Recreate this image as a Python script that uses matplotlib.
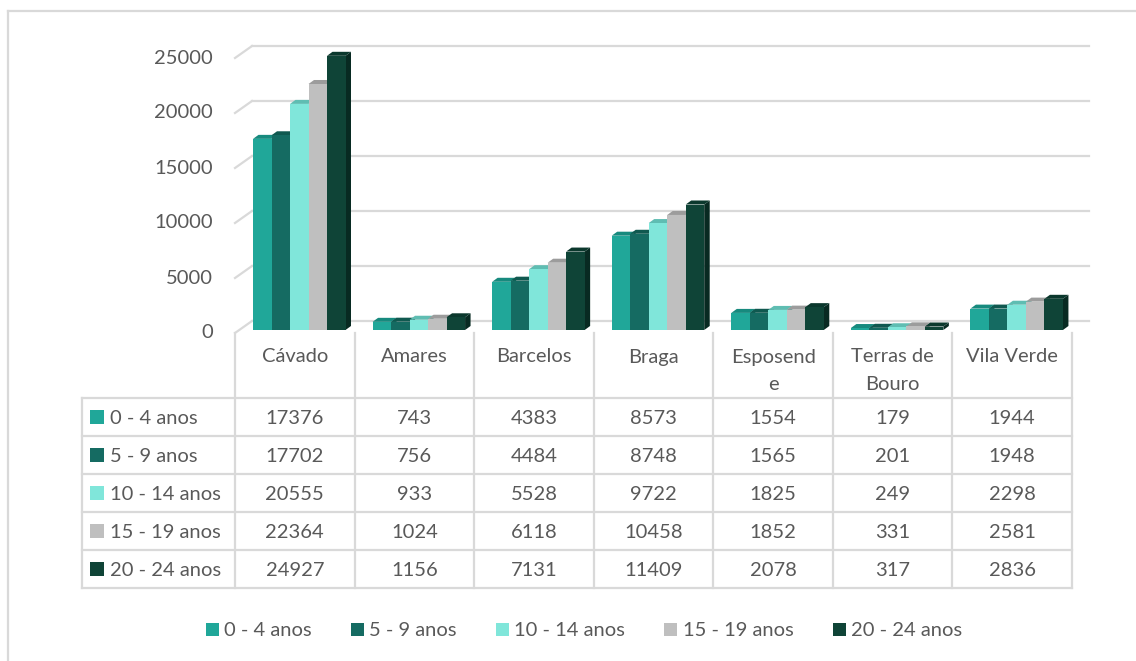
import matplotlib.pyplot as plt
from matplotlib.patches import Polygon, Rectangle, Patch
from matplotlib.lines import Line2D

categories = ["Cávado", "Amares", "Barcelos", "Braga", "Esposend\ne", "Terras de\nBouro", "Vila Verde"]
series = ["0 - 4 anos", "5 - 9 anos", "10 - 14 anos", "15 - 19 anos", "20 - 24 anos"]
v_0_4 = [17376, 743, 4383, 8573, 1554, 179, 1944]
v_5_9 = [17702, 756, 4484, 8748, 1565, 201, 1948]
v_10_14 = [20555, 933, 5528, 9722, 1825, 249, 2298]
v_15_19 = [22364, 1024, 6118, 10458, 1852, 331, 2581]
v_20_24 = [24927, 1156, 7131, 11409, 2078, 317, 2836]
values = [v_0_4, v_5_9, v_10_14, v_15_19, v_20_24]
yticks = [0, 5000, 10000, 15000, 20000, 25000]

front = ["#20A799", "#156B62", "#80E6DA", "#BFBFBF", "#0F4437"]
top = ["#178A7E", "#105950", "#5FBDB2", "#9C9C9C", "#0B382D"]
side = ["#12766B", "#0C4A43", "#4FA89E", "#8A8A8A", "#082A22"]
grid_c = "#D9D9D9"
text_c = "#595959"

plt.rcParams["font.family"] = ["Lato", "DejaVu Sans"]
FS = 14.5

W, H = 1136, 661
fig = plt.figure(figsize=(W / 100, H / 100), dpi=100)


def fx(px):
    return px / W


def fy(py):
    return 1 - py / H


# chart area: front plane, value 0 at y=333px, 25000 at y=58px
ax = fig.add_axes([fx(235), fy(333), fx(1072) - fx(235), (333 - 58) / H])
ax.set_xlim(-0.5, 6.5)
ax.set_ylim(0, 25000)
ax.axis("off")
ppx = (1072 - 235) / 7.0      # pixels per category
ppy = (333 - 58) / 25000.0    # pixels per unit


def off(dx, dy):
    # pixel offset (image coords, y down) -> data offset
    return dx / ppx, -dy / ppy


# back wall gridlines
bx, by = off(17, -12)
for t in yticks:
    ax.plot([-0.5, -0.5 + bx], [t, t + by], color=grid_c, lw=1.6, clip_on=False, zorder=1)
    ax.plot([-0.5 + bx, 6.5 + bx], [t + by, t + by], color=grid_c, lw=1.6, clip_on=False, zorder=1)
    ax.text(-0.5 - 22 / ppx, t, str(t), ha="right", va="center", fontsize=FS, color=text_c)

# 3D-looking bars
w = 18.5 / ppx
gx, base = off(18, -3)
ddx, ddy = off(5.5, -4)
for c in range(len(categories)):
    for i, vals in enumerate(values):
        xl = c - 0.5 + gx + i * w
        xr = xl + w
        h = vals[c] + base
        ax.add_patch(Polygon([(xr, base), (xr + ddx, base + ddy), (xr + ddx, h + ddy), (xr, h)],
                             closed=True, fc=side[i], ec="none", clip_on=False, zorder=2 + c * 10 + i))
        ax.add_patch(Polygon([(xl, h), (xr, h), (xr + ddx, h + ddy), (xl + ddx, h + ddy)],
                             closed=True, fc=top[i], ec="none", clip_on=False, zorder=2 + c * 10 + i))
        ax.bar(xl, vals[c], width=w, bottom=base, align="edge", color=front[i],
               clip_on=False, zorder=2 + c * 10 + i)

# data table
lw_cat = (235 - 82) / ppx
hh = 65 / 38.0
tax = fig.add_axes([fx(82), fy(588), fx(1072) - fx(82), (588 - 333) / H])
tax.set_xlim(-0.5 - lw_cat, 6.5)
tax.set_ylim(5 + hh, 0)
tax.axis("off")
for r in range(6):
    tax.plot([-0.5 - lw_cat, 6.5], [hh + r, hh + r], color=grid_c, lw=1.6, clip_on=False)
for k in range(8):
    tax.plot([-0.5 + k, -0.5 + k], [0, 5 + hh], color=grid_c, lw=1.6, clip_on=False)
tax.plot([-0.5 - lw_cat, -0.5 - lw_cat], [hh, 5 + hh], color=grid_c, lw=1.6, clip_on=False)

for c, name in enumerate(categories):
    for j, line in enumerate(name.split("\n")):
        tax.text(c, (24 + 28 * j) / 38.0, line, ha="center", va="center", fontsize=FS, color=text_c)

for i, (lab, vals) in enumerate(zip(series, values)):
    yc = hh + i + 0.5
    tax.add_patch(Rectangle((-0.5 - lw_cat + 8 / ppx, yc - 7 / 38.0), 14 / ppx, 14 / 38.0,
                            fc=front[i], ec="none", clip_on=False))
    tax.text(-0.5 - lw_cat + 28 / ppx, yc + 0.04, lab, ha="left", va="center", fontsize=FS, color=text_c)
    for c, v in enumerate(vals):
        tax.text(c, yc + 0.04, str(v), ha="center", va="center", fontsize=FS, color=text_c)

# legend
handles = [Patch(fc=front[i], ec="none", label=s) for i, s in enumerate(series)]
fig.legend(handles=handles, loc="center", bbox_to_anchor=(fx(584), fy(631)), ncol=5, frameon=False,
           handlelength=0.65, handleheight=0.65, handletextpad=0.25, columnspacing=1.95,
           fontsize=FS, labelcolor=text_c)

# outer chart border (partly outside the image)
fig.add_artist(Line2D([fx(8), fx(8)], [fy(11), 0], transform=fig.transFigure, color=grid_c, lw=1.6))
fig.add_artist(Line2D([fx(8), 1], [fy(11), fy(11)], transform=fig.transFigure, color=grid_c, lw=1.6))

fig.savefig("out.png", dpi=100, facecolor="white")
